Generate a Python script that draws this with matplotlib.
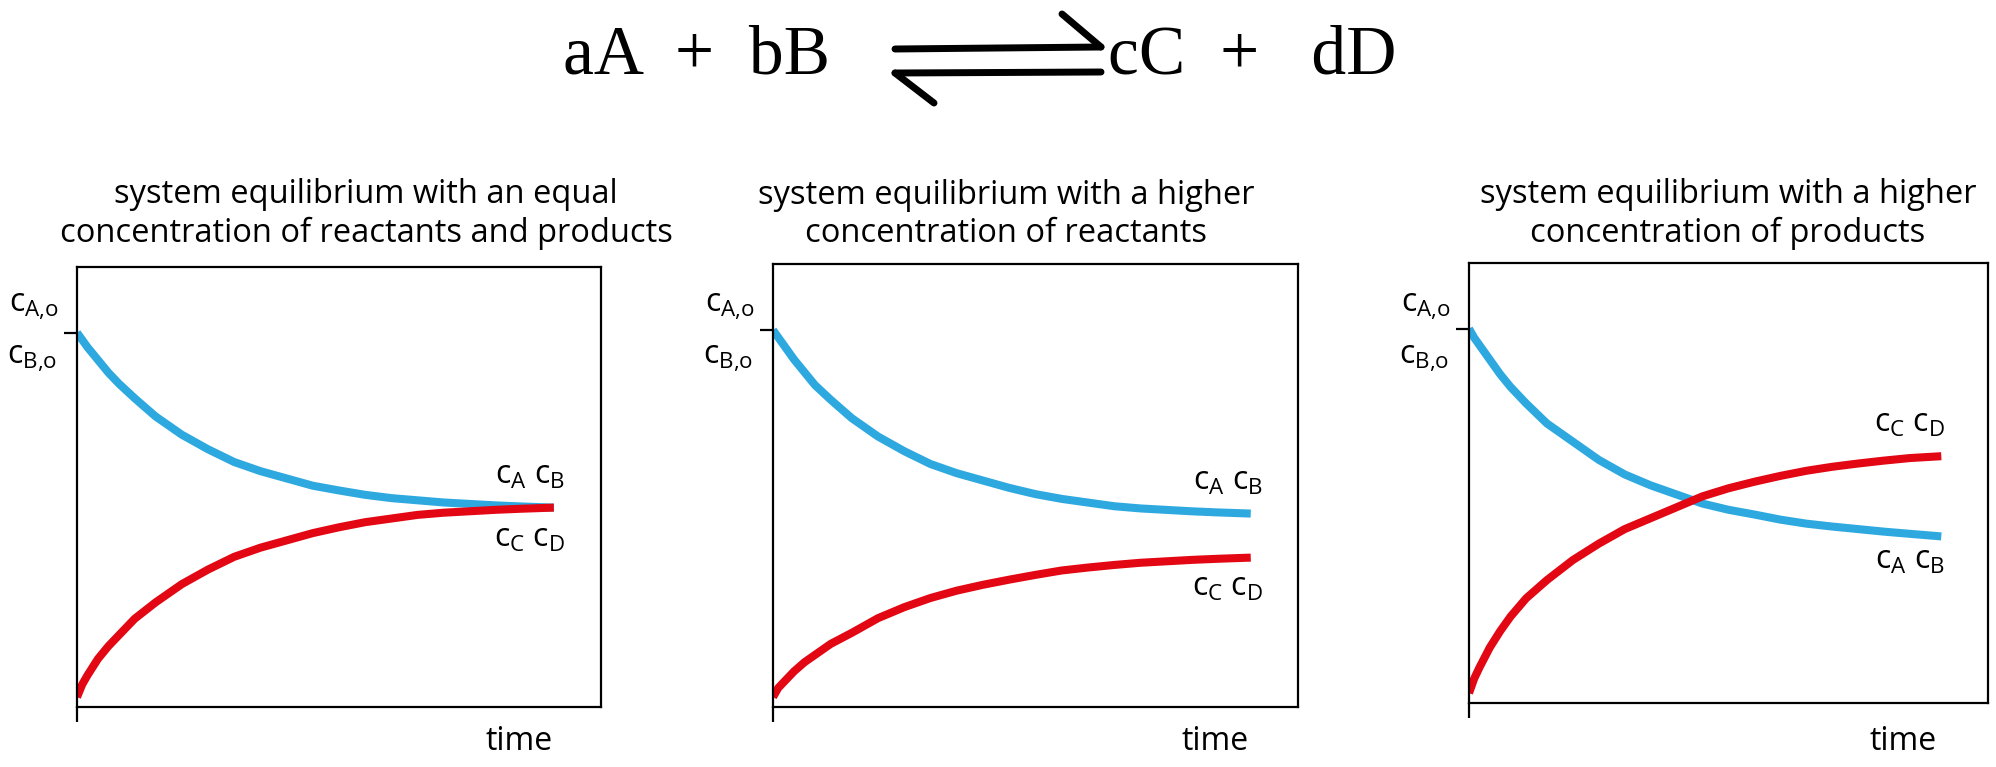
import matplotlib
matplotlib.use("Agg")
import matplotlib.pyplot as plt
from matplotlib.lines import Line2D

plt.rcParams['font.family'] = ['Open Sans', 'DejaVu Sans']
plt.rcParams['mathtext.fontset'] = 'custom'
plt.rcParams['mathtext.rm'] = 'Open Sans'
plt.rcParams['mathtext.it'] = 'Open Sans'

W, H = 1996, 767
BLUE = '#2EA9E0'
RED = '#E30613'

titles = ["system equilibrium with an equal\nconcentration of reactants and products",
          "system equilibrium with a higher\nconcentration of reactants",
          "system equilibrium with a higher\nconcentration of products"]
t = [0, 0.01, 0.02, 0.04, 0.06, 0.08, 0.11, 0.15, 0.20, 0.25, 0.30, 0.35, 0.40,
     0.45, 0.50, 0.55, 0.60, 0.65, 0.70, 0.75, 0.80, 0.85, 0.91]
reactants = [
    [1.0, 0.98, 0.96, 0.925, 0.89, 0.86, 0.82, 0.77, 0.72, 0.68, 0.645, 0.62, 0.60,
     0.58, 0.567, 0.555, 0.546, 0.54, 0.534, 0.53, 0.526, 0.523, 0.52],
    [1.0, 0.98, 0.96, 0.92, 0.885, 0.85, 0.81, 0.76, 0.71, 0.67, 0.635, 0.61, 0.59,
     0.57, 0.553, 0.54, 0.53, 0.52, 0.514, 0.51, 0.506, 0.503, 0.50],
    [1.0, 0.975, 0.955, 0.915, 0.875, 0.84, 0.795, 0.74, 0.69, 0.64, 0.60, 0.57, 0.545,
     0.52, 0.503, 0.49, 0.476, 0.465, 0.457, 0.45, 0.443, 0.437, 0.43],
]
products = [
    [0, 0.035, 0.06, 0.105, 0.14, 0.17, 0.215, 0.26, 0.31, 0.35, 0.385, 0.41, 0.43,
     0.45, 0.466, 0.48, 0.49, 0.50, 0.506, 0.51, 0.514, 0.517, 0.52],
    [0, 0.025, 0.04, 0.07, 0.095, 0.115, 0.145, 0.175, 0.215, 0.245, 0.27, 0.29, 0.306,
     0.32, 0.333, 0.345, 0.353, 0.36, 0.366, 0.37, 0.374, 0.377, 0.38],
    [0, 0.04, 0.07, 0.125, 0.17, 0.21, 0.26, 0.31, 0.365, 0.41, 0.45, 0.48, 0.51,
     0.54, 0.562, 0.58, 0.596, 0.61, 0.621, 0.63, 0.638, 0.645, 0.65],
]
lab_react = r"c$_\mathregular{A}$ c$_\mathregular{B}$"
lab_prod = r"c$_\mathregular{C}$ c$_\mathregular{D}$"

# pixel layout: left, right, top, bottom
boxes = [(77, 601, 267, 707), (773, 1298, 264, 707), (1469, 1988, 263, 703)]
title_x = [366, 1006, 1728]
react_lab_y = [475, 481, 560]
prod_lab_y = [538, 587, 423]
lab_x = [530, 1228, 1910]
time_x = [519, 1215, 1903]

fig = plt.figure(figsize=(W/100, H/100), dpi=100)

def ftext(x, y, s, **kw):
    fig.text(x/W, 1 - y/H, s, **kw)

for i in range(3):
    l, r, tp, b = boxes[i]
    ax = fig.add_axes([l/W, 1 - b/H, (r-l)/W, (b-tp)/H])
    ax.plot(t, reactants[i], color=BLUE, lw=5.8, solid_capstyle='butt')
    ax.plot(t, products[i], color=RED, lw=5.8, solid_capstyle='butt')
    ax.set_xlim(0, 1)
    ax.set_ylim(-0.027, 1.18)
    ax.set_yticks([1])
    ax.set_yticklabels([])
    ax.set_xticks([0])
    ax.set_xticklabels([])
    ax.tick_params(axis='y', length=9.5, width=1.6, direction='out')
    ax.tick_params(axis='x', length=11, width=1.6, direction='out')
    for sp in ax.spines.values():
        sp.set_linewidth(1.6)
    ftext(title_x[i], 214, titles[i], ha='center', va='center', fontsize=23.5,
          linespacing=1.2)
    ftext(l - 43, 305, r"c$_\mathregular{A{,}o}$", ha='center', va='center', fontsize=23)
    ftext(l - 45, 358, r"c$_\mathregular{B{,}o}$", ha='center', va='center', fontsize=23)
    ftext(lab_x[i], react_lab_y[i], lab_react, ha='center', va='center', fontsize=23)
    ftext(lab_x[i], prod_lab_y[i], lab_prod, ha='center', va='center', fontsize=23)
    ftext(time_x[i], 742, "time", ha='center', va='center', fontsize=23)

# reaction equation
ftext(830, 57, "aA  +  bB", ha='right', va='center', fontsize=50,
      family=['Liberation Serif', 'DejaVu Serif'])
ftext(1108, 57, "cC  +   dD", ha='left', va='center', fontsize=50,
      family=['Liberation Serif', 'DejaVu Serif'])
def fl(xs, ys):
    fig.add_artist(Line2D([x/W for x in xs], [1 - y/H for y in ys],
                          color='black', lw=5, solid_capstyle='round',
                          transform=fig.transFigure))
fl([895, 1101], [49, 47])
fl([1101, 1062], [47, 14])
fl([895, 1101], [73, 72])
fl([895, 934], [73, 103])

fig.savefig("out.png", dpi=100)
